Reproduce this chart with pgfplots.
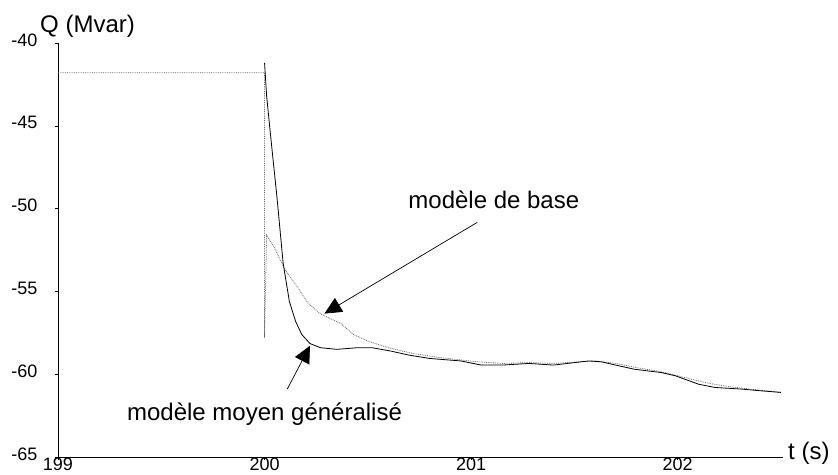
\documentclass[border=0pt]{standalone}
\usepackage{pgfplots}
\pgfplotsset{compat=1.18}
\usetikzlibrary{arrows.meta}
\usepackage{fontspec}
\setmainfont{Liberation Sans}

\begin{document}
\begin{tikzpicture}
\begin{axis}[
  width=725pt, height=414pt, scale only axis,
  xmin=199, xmax=202.51, ymin=-65, ymax=-40,
  axis lines*=left,
  axis line style={line width=0.7pt},
  xtick={199,200,201,202}, xticklabels={199,200,201,202},
  ytick={-65,-60,-55,-50,-45,-40}, yticklabels={-65,-60,-55,-50,-45,-40},
  tick align=outside, major tick length=3pt,
  tick style={black, line width=0.5pt},
  ticklabel style={font=\fontsize{18}{20}\selectfont},
  yticklabel style={xshift=-14pt, yshift=3pt},
  xticklabel style={inner sep=0pt, yshift=2pt},
  clip=false,
]
\coordinate (ll) at (rel axis cs:0,0);
\coordinate (ur) at (rel axis cs:1,1);

% modele de base (pointille)
\addplot[black!60, densely dotted, line width=0.8pt] coordinates {
  (199,-41.8) (200,-41.8) (200,-57.8) (200.01,-51.6) (200.045,-52.3)
  (200.10,-53.7) (200.16,-54.75) (200.21,-55.7) (200.27,-56.35)
  (200.37,-56.95) (200.43,-57.6) (200.50,-58.0) (200.60,-58.4)
  (200.72,-58.75) (200.85,-59.0) (201.03,-59.25) (201.15,-59.35)
  (201.28,-59.3) (201.40,-59.35) (201.53,-59.25) (201.60,-59.2)
  (201.70,-59.35) (201.80,-59.6) (201.92,-59.85) (202.05,-60.25)
  (202.15,-60.55) (202.25,-60.75) (202.35,-60.9) (202.50,-61.1)
};

% modele moyen generalise (trait plein)
\addplot[black, line width=0.8pt] coordinates {
  (200.0,-41.2) (200.01,-43.2) (200.035,-46.3) (200.06,-49.3)
  (200.09,-53.3) (200.12,-55.6) (200.15,-56.8) (200.18,-57.6)
  (200.22,-58.15) (200.27,-58.4) (200.35,-58.5) (200.45,-58.4)
  (200.52,-58.4) (200.61,-58.6) (200.70,-58.85) (200.80,-59.05)
  (200.95,-59.2) (201.05,-59.45) (201.15,-59.45) (201.28,-59.35)
  (201.40,-59.45) (201.50,-59.3) (201.57,-59.2) (201.63,-59.25)
  (201.70,-59.45) (201.79,-59.7) (201.92,-59.9) (201.99,-60.1)
  (202.10,-60.6) (202.18,-60.8) (202.31,-60.9) (202.40,-61.0)
  (202.50,-61.1)
};

% annotations
\draw[line width=0.7pt, -{Triangle[length=17pt,width=16pt]}]
  (axis cs:201.03,-50.83) -- (axis cs:200.29,-56.34);
\draw[line width=0.7pt, -{Triangle[length=17pt,width=16pt]}]
  (axis cs:200.11,-60.9) -- (axis cs:200.22,-58.28);
\node[anchor=base, inner sep=0pt, font=\fontsize{24}{28}\selectfont]
  at (axis cs:201.11,-50.0) {modèle de base};
\node[anchor=base, inner sep=0pt, font=\fontsize{24}{28}\selectfont]
  at (axis cs:200.0,-62.8) {modèle moyen généralisé};

% axis titles
\node[anchor=base west, inner sep=0pt, font=\fontsize{24}{28}\selectfont]
  at ([xshift=-18pt,yshift=10pt]rel axis cs:0,1) {Q (Mvar)};
\node[anchor=base west, inner sep=0pt, font=\fontsize{24}{28}\selectfont]
  at ([xshift=5pt,yshift=-3pt]rel axis cs:1,0) {t (s)};
\end{axis}
\pgfresetboundingbox
\path ([shift={(-58pt,-18pt)}]ll) rectangle ([shift={(55pt,43pt)}]ur);
\end{tikzpicture}
\end{document}
